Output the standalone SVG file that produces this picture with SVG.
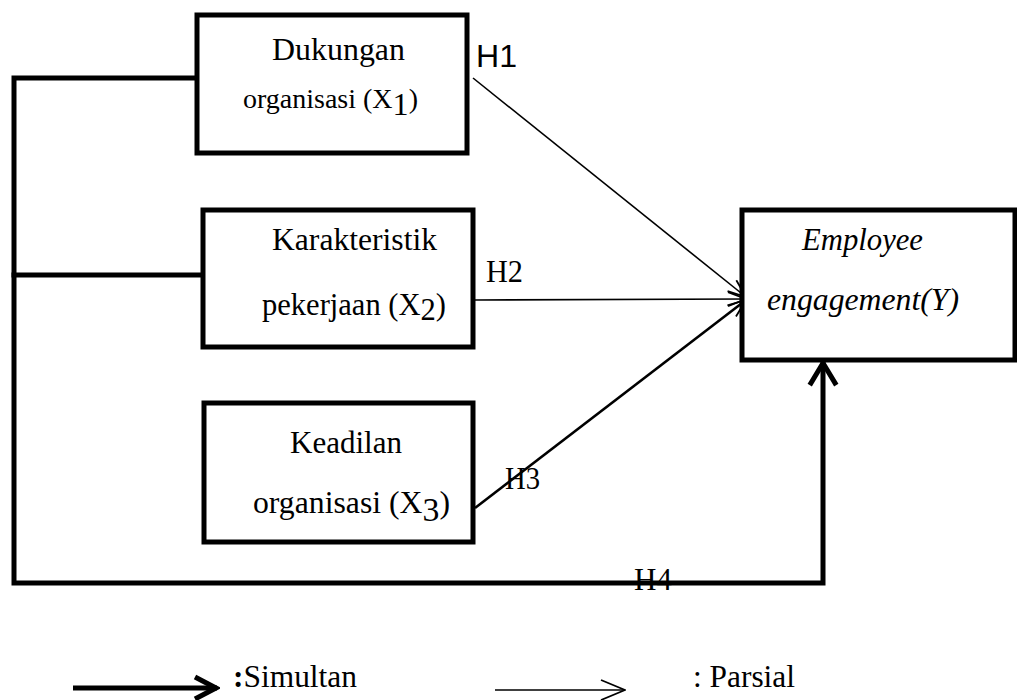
<svg xmlns="http://www.w3.org/2000/svg" width="1017" height="700" viewBox="0 0 1017 700">
<style>
.box{fill:#fff;stroke:#000;stroke-width:5;stroke-linecap:square}
.frame{fill:none;stroke:#000;stroke-width:5;stroke-linecap:square;stroke-linejoin:miter}
.thin{fill:none;stroke:#000;stroke-width:1.6}
.mid{fill:none;stroke:#000;stroke-width:2.6}
.t{font-family:"Liberation Serif","Times New Roman",serif;font-size:31px;fill:#000}
.s{font-size:27px}
.it{font-style:italic}
.h{font-family:"Liberation Sans",Arial,sans-serif;font-size:32px;fill:#000}
</style>
<defs>
<marker id="open" viewBox="0 0 20 16" refX="19" refY="8" markerWidth="20" markerHeight="16" markerUnits="userSpaceOnUse" orient="auto">
<path d="M1,1 L19,8 L1,15" fill="none" stroke="#000" stroke-width="1.8"/>
</marker>
<marker id="openLeg" viewBox="0 0 26 24" refX="25" refY="12" markerWidth="26" markerHeight="24" markerUnits="userSpaceOnUse" orient="auto">
<path d="M1,2 L25,12 L1,22" fill="none" stroke="#000" stroke-width="1.8"/>
</marker>
<marker id="thick" viewBox="0 0 28 28" refX="25" refY="14" markerWidth="28" markerHeight="28" markerUnits="userSpaceOnUse" orient="auto">
<path d="M3,3 L24,14 L3,25" fill="none" stroke="#000" stroke-width="5" stroke-linejoin="miter"/>
</marker>
</defs>

<g id="connectors">
<polyline class="frame" points="197,78 14,78 14,583 823,583 823,364"/>
<line class="frame" x1="14" y1="275" x2="203" y2="275"/>
<polyline class="frame" points="811,383 823,363 835,383"/>
<line class="thin" x1="473" y1="78" x2="746" y2="297" marker-end="url(#open)"/>
<line class="thin" x1="475" y1="300" x2="746" y2="299" marker-end="url(#open)"/>
<line class="mid" x1="475" y1="508" x2="746" y2="300" marker-end="url(#open)"/>
</g>

<g id="node-x1">
<rect class="box" x="197" y="15" width="270" height="138"/>
<text class="t" x="272" y="60" textLength="133" lengthAdjust="spacingAndGlyphs">Dukungan</text>
<text class="t s" x="243" y="108" textLength="175" lengthAdjust="spacingAndGlyphs">organisasi (X<tspan dy="7" font-size="31">1</tspan><tspan dy="-7">)</tspan></text>
</g>

<g id="node-x2">
<rect class="box" x="203" y="210" width="270" height="137"/>
<text class="t" x="272" y="250" textLength="165" lengthAdjust="spacingAndGlyphs">Karakteristik</text>
<text class="t" x="262" y="315" textLength="184" lengthAdjust="spacingAndGlyphs" font-size="29">pekerjaan (X<tspan dy="5">2</tspan><tspan dy="-5">)</tspan></text>
</g>

<g id="node-x3">
<rect class="box" x="204" y="403" width="269" height="139"/>
<text class="t" x="290" y="453" textLength="112" lengthAdjust="spacingAndGlyphs">Keadilan</text>
<text class="t" x="253" y="513" textLength="197" lengthAdjust="spacingAndGlyphs">organisasi (X<tspan dy="8" font-size="33">3</tspan><tspan dy="-8">)</tspan></text>
</g>

<g id="node-y">
<rect class="box" x="742" y="210" width="273" height="150"/>
<text class="t it" x="802" y="250" textLength="121" lengthAdjust="spacingAndGlyphs">Employee</text>
<text class="t it" x="767" y="310" textLength="192" lengthAdjust="spacingAndGlyphs">engagement(Y)</text>
</g>

<g id="labels">
<text class="h" x="476" y="67" textLength="41" lengthAdjust="spacingAndGlyphs">H1</text>
<text class="t" x="486" y="282" textLength="37" lengthAdjust="spacingAndGlyphs">H2</text>
<text class="t" x="505" y="489" textLength="35" lengthAdjust="spacingAndGlyphs">H3</text>
<text class="t" x="634" y="590" textLength="38" lengthAdjust="spacingAndGlyphs">H4</text>
</g>

<g id="legend">
<line x1="73" y1="688" x2="217" y2="688" stroke="#000" stroke-width="5" marker-end="url(#thick)"/>
<text class="t" x="233" y="687" textLength="124" lengthAdjust="spacingAndGlyphs"><tspan font-weight="bold">:</tspan>Simultan</text>
<line x1="495" y1="690" x2="625" y2="690" stroke="#000" stroke-width="1.6" marker-end="url(#openLeg)"/>
<text class="t" x="693" y="687" textLength="102" lengthAdjust="spacingAndGlyphs">: Parsial</text>
</g>
</svg>
